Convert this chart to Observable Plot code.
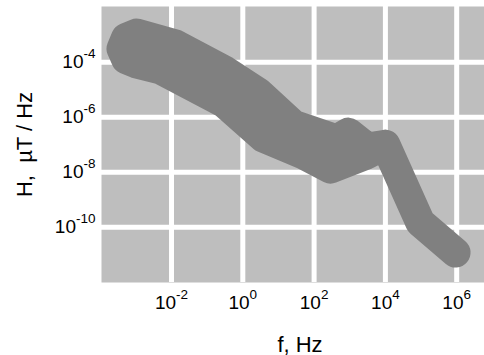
<!DOCTYPE html>
<html>
<head>
<meta charset="utf-8">
<script src="https://cdn.jsdelivr.net/npm/d3@7"></script>
<script src="https://cdn.jsdelivr.net/npm/@observablehq/plot@0.6"></script>
<style>
  body { margin: 0; background: #fff; }
</style>
</head>
<body>
<div id="chart"></div>
<script>
// Decades labelled on each axis (exponents of 10)
const xTickExps = [-2, 0, 2, 4, 6];
const yTickExps = [-4, -6, -8, -10];

// Magnetic noise band: upper boundary, low to high frequency
const upperFreq = [3.95e-4, 5.3e-4, 1.04e-3, 1.3e-2, 0.31, 2.75, 26, 430, 910, 3100, 1.0e4, 9.5e4, 9.3e5];
const upperH    = [3.1e-4, 7.7e-4, 1.1e-3, 4.4e-4, 5.0e-5, 7.9e-6, 5.4e-7, 1.55e-7, 2.75e-7, 7.9e-8, 1.0e-7, 1.5e-10, 1.2e-11];

// Lower boundary, high to low frequency
const lowerFreq = [9.5e4, 1.0e4, 2950, 290, 50, 3.8, 0.29, 4.9e-3, 1.04e-3, 5.3e-4];
const lowerH    = [1.5e-10, 1.0e-7, 4.4e-8, 1.35e-8, 4.4e-8, 1.8e-7, 3.4e-6, 5.4e-5, 9.0e-5, 1.3e-4];

const band = [
  ...upperFreq.map((f, i) => ({f, h: upperH[i]})),
  ...lowerFreq.map((f, i) => ({f, h: lowerH[i]}))
];

const xTicks = xTickExps.map(e => 10 ** e);
const yTicks = yTickExps.map(e => 10 ** e);
const pow = d => `10^${Math.round(Math.log10(d))}`;

const chart = Plot.plot({
  width: 484,
  height: 355,
  marginLeft: 101,
  marginRight: 0,
  marginTop: 6,
  marginBottom: 73,
  style: {
    fontFamily: "'Liberation Sans', Arial, Helvetica, sans-serif",
    fontSize: "19px",
    color: "#000",
    background: "#fff"
  },
  x: {type: "log", domain: [10 ** -3.964, 10 ** 6.78]},
  y: {type: "log", domain: [10 ** -12.01, 10 ** -1.975]},
  marks: [
    Plot.frame({fill: "#bebebe", stroke: "none"}),
    Plot.gridX(xTicks, {stroke: "#fff", strokeOpacity: 1, strokeWidth: 5}),
    Plot.gridY(yTicks, {stroke: "#fff", strokeOpacity: 1, strokeWidth: 5}),
    Plot.line(band, {
      x: "f", y: "h",
      curve: "linear-closed",
      fill: "#808080",
      stroke: "#808080",
      strokeWidth: 30,
      strokeLinejoin: "round",
      strokeLinecap: "round"
    }),
    Plot.axisX({ticks: xTicks, tickSize: 0, tickPadding: 13, tickFormat: pow, fontSize: 19, label: null}),
    Plot.axisY({ticks: yTicks, tickSize: 0, tickPadding: 6, tickFormat: pow, fontSize: 19, label: null}),
    Plot.text(["f, Hz"], {text: d => d, frameAnchor: "bottom", textAnchor: "middle", dx: 7, dy: 69, lineAnchor: "bottom", fontSize: 22}),
    Plot.text(["H,\u00a0 µT / Hz"], {text: d => d, frameAnchor: "left", textAnchor: "middle", rotate: -90, dx: -70, lineAnchor: "bottom", fontSize: 22})
  ]
});

// Render "10^n" tick labels with a raised exponent
d3.select(chart).selectAll("text").each(function () {
  const m = /^10\^(.+)$/.exec(this.textContent);
  if (m) {
    this.textContent = "10";
    d3.select(this).append("tspan")
      .attr("dy", -10)
      .attr("font-size", 13.5)
      .text(m[1]);
  }
});

document.getElementById("chart").append(chart);
</script>
</body>
</html>
